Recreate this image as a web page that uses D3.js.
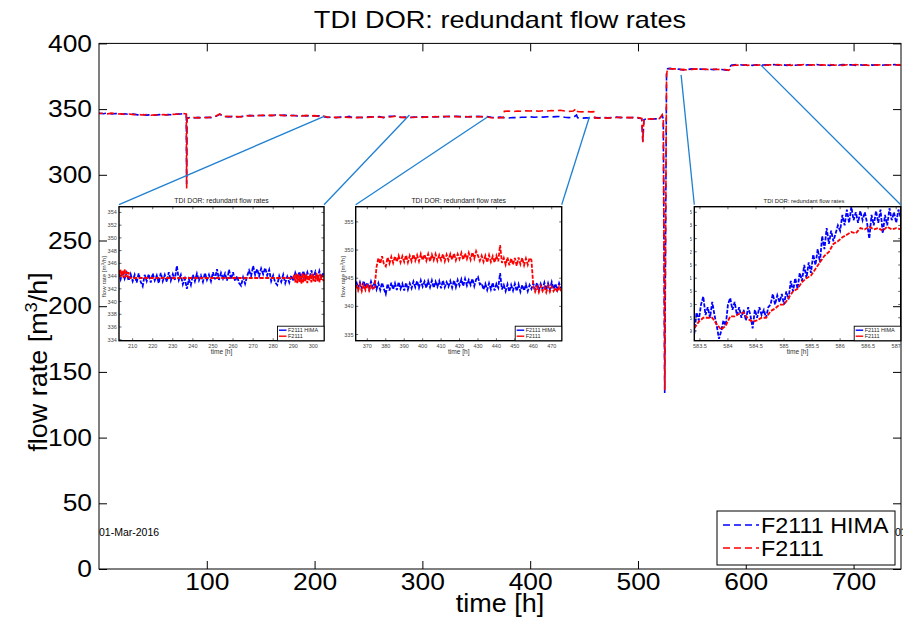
<!DOCTYPE html>
<html><head><meta charset="utf-8">
<script src="https://cdn.jsdelivr.net/npm/d3@7"></script>
<style>body{margin:0;background:#fff} svg{display:block}</style>
</head><body><svg id="c" width="903" height="617"></svg>
<script>
// ---------------- DATA ----------------
const chartTitle = "TDI DOR: redundant flow rates";
const seriesNames = ["F2111 HIMA", "F2111"];
const mainXDomain = [0, 744];
const mainYDomain = [0, 400];
const mainXTicks = [100, 200, 300, 400, 500, 600, 700];
const mainYTicks = [0, 50, 100, 150, 200, 250, 300, 350, 400];
const startDateLabel = "01-Mar-2016";
const endDateLabel = "01-Apr-2016";

// main series: time [h]
const mainT = [
  0,4,8,12,16,20,24,28,32,36,40,44,48,52,56,60,64,68,72,76,80,
  81,81.3,81.6,
  84,88,92,96,100,104,108,112,116,120,
  124,128,132,136,140,144,148,152,156,160,
  164,168,172,176,180,184,188,192,196,200,
  204,208,212,216,220,224,228,232,236,240,
  244,248,252,256,260,264,268,272,276,280,
  284,288,292,296,300,304,308,312,316,320,
  324,328,332,336,340,344,348,352,356,360,
  364,368,372,
  375,
  376,380,384,388,392,396,400,404,408,412,416,420,424,428,432,436,440,
  443,
  444,448,452,456,
  459,
  460,464,468,472,476,480,484,488,492,496,500,
  503.5,504.5,505.5,
  508,512,516,520,
  522.5,523.5,524.8,526.5,527.5,
  530,534,538,542,546,550,554,558,562,566,570,574,578,582,
  584,585,585.5,586,587,590,
  594,598,602,606,610,614,618,622,626,630,634,638,642,646,650,654,658,662,666,670,
  674,678,682,686,690,694,698,702,706,710,714,718,722,726,730,734,738,742,
  744
];
const mainHima = [
  346.9,346.5,347.0,346.4,346.6,346.1,346.4,345.9,346.2,345.6,345.9,345.4,345.7,345.3,345.8,345.4,345.9,345.6,346.2,346.3,346.8,
  346.0,293.0,343.2,
  343.6,343.2,343.7,343.3,343.8,343.5,344.2,346.0,344.6,344.1,
  344.5,344.0,344.4,344.8,345.2,344.8,345.3,344.9,345.4,345.0,
  345.5,345.1,345.4,344.9,345.3,344.8,345.2,344.8,345.2,344.7,
  344.9,344.3,343.7,343.9,343.5,344.0,343.6,344.4,343.2,343.8,
  343.5,344.0,344.2,343.9,344.3,343.5,344.4,344.6,344.5,343.6,
  343.9,343.4,344.0,343.7,344.1,343.8,344.3,344.0,344.4,344.1,
  344.5,344.2,344.6,344.3,344.0,344.4,344.1,344.5,344.1,344.4,
  343.8,343.5,343.9,
  343.6,
  343.4,343.2,343.6,343.4,343.8,343.9,344.1,343.8,344.0,343.9,344.2,344.0,344.3,344.4,343.8,343.5,343.7,
  345.5,
  343.4,343.1,343.3,343.2,
  343.4,
  343.6,343.4,343.7,343.3,343.6,343.9,343.5,343.8,343.4,343.7,343.3,
  342.6,325.3,341.8,
  342.6,342.3,342.7,342.4,
  345.4,342.4,134.0,377.0,380.8,
  381.0,380.2,380.4,379.8,380.1,380.6,380.2,380.5,380.1,380.4,380.0,380.5,380.1,379.6,
  379.8,380.6,381.8,383.0,383.5,383.8,
  383.9,383.4,383.8,383.3,383.7,383.2,383.8,383.4,383.9,383.5,383.8,383.3,383.9,383.4,383.7,383.3,383.8,383.5,383.9,383.4,
  383.8,383.3,383.7,383.4,383.9,383.5,383.8,383.3,383.7,383.4,383.9,383.5,383.8,383.3,383.7,383.4,383.9,383.5,
  383.6
];
const mainF2111 = [
  346.6,346.8,346.4,346.9,346.2,346.5,346.0,346.3,345.8,346.0,345.5,345.8,345.3,345.6,345.5,345.8,345.5,346.0,346.1,346.6,346.5,
  346.2,289.5,342.8,
  343.2,343.6,343.3,343.7,343.4,343.9,344.6,346.3,344.2,344.5,
  344.0,344.4,344.1,345.1,344.8,345.3,344.9,345.4,345.0,345.4,
  345.1,345.5,345.0,345.3,344.9,345.2,344.8,345.2,344.8,345.0,
  344.5,344.7,343.9,343.6,343.8,343.6,343.9,343.7,343.6,343.5,
  343.8,343.6,343.9,344.2,343.8,343.7,344.0,344.2,344.8,343.9,
  343.5,343.8,343.6,344.0,343.7,344.1,343.9,344.4,344.0,344.5,
  344.2,344.6,344.3,344.0,344.4,344.0,344.5,344.1,344.4,344.0,
  343.4,343.1,343.5,
  343.4,
  348.3,348.6,348.1,348.5,348.3,348.7,348.5,348.8,348.4,348.7,348.5,348.9,348.7,349.1,348.6,348.3,348.6,
  350.5,
  348.1,347.9,348.2,347.9,
  348.1,
  343.3,343.0,343.4,343.1,343.4,343.6,343.8,343.4,343.7,343.3,343.6,
  342.9,324.8,342.1,
  342.3,342.7,342.4,342.8,
  345.7,342.0,136.0,376.0,381.2,
  380.6,380.6,380.0,380.2,379.7,380.2,380.6,380.1,380.5,380.0,380.4,380.1,380.4,379.9,
  379.5,380.2,381.2,382.6,383.0,383.4,
  383.5,383.8,383.3,383.9,383.4,383.7,383.3,383.8,383.5,383.9,383.4,383.7,383.3,383.8,383.5,383.9,383.4,383.7,383.3,383.8,
  383.5,383.9,383.4,383.7,383.3,383.8,383.5,383.9,383.4,383.7,383.3,383.8,383.5,383.9,383.4,383.7,383.3,383.8,
  383.4
];

// inset 1: zoom 203..305 h
const inset1XDomain = [203.2, 305.3];
const inset1YDomain = [333.85, 354.9];
const inset1XTicks = [210,220,230,240,250,260,270,280,290,300];
const inset1YTicks = [334,336,338,340,342,344,346,348,350,352,354];
const inset1HimaStart = 203, inset1HimaStep = 1;
const inset1Hima = [
  344.6,343.5,344.8,343.6,344.5,343.3,344.3,343.2,344.2,343.0,
  344.4,343.1,342.4,344.2,343.2,344.3,343.0,344.4,343.3,344.1,
  342.9,344.5,343.2,344.2,343.1,344.6,343.3,344.3,343.4,345.6,
  343.4,344.2,342.7,343.6,342.0,343.5,342.6,344.2,343.2,344.4,
  343.3,344.1,343.1,344.5,343.4,344.2,343.2,344.6,343.5,345.1,
  343.4,344.5,343.6,344.4,343.3,345.0,343.5,344.6,343.2,344.0,
  342.9,342.5,343.8,342.8,344.0,344.9,344.0,345.6,344.2,345.1,
  344.0,345.2,344.3,345.3,344.1,345.0,343.2,344.1,343.0,342.6,
  344.0,343.1,344.2,342.9,343.9,343.0,344.1,343.2,344.5,343.6,
  344.7,343.5,344.8,343.7,344.6,343.5,344.9,343.8,344.7,343.6,
  344.8,343.7,344.5
];
const inset1F2111T = [
  203,203.5,204,204.5,205,205.5,206,206.5,207,207.5,208,208.5,
  209,290,
  290.5,291,291.5,292,292.5,293,293.5,294,294.5,295,295.5,296,296.5,297,297.5,
  298,298.5,299,299.5,300,300.5,301,301.5,302,302.5,303,303.5,304,304.5,305
];
const inset1F2111 = [
  344.9,343.8,345.0,343.9,344.8,343.7,345.1,343.9,344.7,343.8,344.6,343.7,
  343.7,343.7,
  344.2,343.0,344.4,342.9,344.3,343.1,344.0,342.8,344.5,343.0,344.2,343.2,344.4,342.9,344.1,
  343.3,344.3,343.0,344.4,343.2,344.0,343.1,344.5,343.3,344.2,343.0,344.3,343.4,344.1,343.2
];

// inset 2: zoom 364..475 h
const inset2XDomain = [363.7, 475.4];
const inset2YDomain = [333.9, 357.7];
const inset2XTicks = [370,380,390,400,410,420,430,440,450,460,470];
const inset2YTicks = [335,340,345,350,355];
const inset2Start = 364, inset2Step = 1;
const inset2Hima = [
  344.4,343.3,344.3,343.2,344.5,343.4,344.2,343.1,344.4,343.3,
  344.3,343.0,344.1,342.9,344.2,343.1,342.2,344.0,342.8,344.2,
  343.0,344.1,342.9,344.3,343.1,344.0,342.8,344.2,343.0,344.1,
  343.2,344.4,343.4,344.5,343.3,344.6,343.5,344.4,343.3,344.5,
  343.4,344.6,343.3,344.4,343.5,344.5,343.2,344.6,343.4,344.3,
  343.5,344.5,343.3,344.6,343.4,344.7,343.7,344.8,343.6,344.9,
  343.7,344.7,343.8,344.9,343.6,344.8,345.2,343.9,344.1,343.0,
  344.0,342.9,344.1,343.0,344.2,342.8,344.0,343.3,345.9,343.0,
  343.8,342.7,343.9,342.6,343.8,342.8,344.0,342.7,343.9,342.6,
  343.8,342.8,343.9,342.7,343.8,343.1,344.1,343.0,344.2,342.9,
  344.0,343.1,344.2,342.9,344.1,343.0,344.3,343.1,344.0,342.9,
  344.1,343.2
];
const inset2F2111 = [
  343.8,342.8,343.9,342.7,343.8,342.9,344.0,342.8,343.7,343.0,
  343.4,347.0,348.6,347.6,348.9,347.5,347.1,348.7,347.6,348.8,
  347.7,348.9,347.9,349.0,347.8,348.9,347.9,349.1,347.8,349.0,
  348.0,349.2,348.1,349.1,348.0,349.3,348.2,349.2,348.1,349.3,
  348.0,349.2,348.2,349.3,348.1,349.1,348.2,349.3,348.0,349.2,
  348.2,349.3,348.3,349.4,348.2,349.3,348.4,349.5,348.3,349.4,
  348.4,349.5,348.3,349.6,348.5,349.8,349.0,348.1,349.0,347.9,
  349.0,347.8,349.1,347.9,348.9,347.8,349.0,348.0,350.9,347.7,
  348.6,347.4,348.7,347.3,348.5,347.4,348.6,347.2,348.7,347.5,
  348.6,347.3,348.5,347.4,348.6,348.2,343.6,342.6,343.5,342.5,
  343.6,342.7,343.4,342.5,343.6,342.6,343.5,342.7,343.3,342.6,
  343.5,342.7
];

// inset 3: zoom 583.4..587.1 h
const inset3XDomain = [583.4, 587.08];
const inset3YDomain = [378.63, 383.71];
const inset3XTicks = [583.5,584,584.5,585,585.5,586,586.5,587];
const inset3YTicks = [379,379.5,380,380.5,381,381.5,382,382.5,383,383.5];
const inset3HimaStart = 583.4, inset3HimaStep = 0.04;
const inset3Hima = [
  378.9,379.7,379.4,380.0,380.3,379.6,379.9,379.5,380.1,379.6,
  379.2,378.7,379.0,379.4,379.2,380.0,380.25,379.8,380.1,379.6,
  379.9,379.5,379.8,379.4,379.9,379.6,379.1,379.8,379.5,379.9,
  379.6,379.8,379.5,379.9,380.0,380.4,380.0,380.35,380.1,380.4,
  380.0,380.5,380.2,380.9,380.5,381.0,380.6,381.2,380.9,381.5,
  381.0,381.6,381.2,381.9,381.5,382.1,381.6,382.6,382.1,382.9,
  382.3,382.8,382.4,382.7,383.0,382.8,383.4,383.0,383.6,383.1,
  383.7,383.2,383.5,383.1,383.55,383.2,383.5,383.1,382.5,383.4,
  383.0,383.55,383.1,383.6,382.7,383.4,383.0,383.65,383.2,383.5,
  383.1,383.6,383.3
];
const inset3F2111Start = 583.4, inset3F2111Step = 0.08;
const inset3F2111 = [
  379.1,379.35,379.5,379.5,379.5,379.25,379.05,379.2,379.55,379.55,
  379.65,379.7,379.45,379.35,379.4,379.5,379.5,379.75,379.85,380.0,
  380.0,380.25,380.5,380.6,380.85,381.0,381.1,381.35,381.6,381.85,
  382.0,382.3,382.4,382.55,382.65,382.75,382.7,382.9,382.85,382.95,
  382.85,382.9,382.8,382.95,382.85,382.9,382.85
];

// zoom connectors: main-chart point [h, m3/h] -> inset corner
const connectorT = [209.4, 288, 360.4, 455, 540, 614];
const connectorV = [344.7, 345.5, 344.0, 344.2, 376.0, 383.6];
const connectorInset = [0, 0, 1, 1, 2, 2];
const connectorCorner = ["left", "right", "left", "right", "left", "right"];

// ---------------- DRAWING ----------------
const FONT = '"Liberation Sans", Arial, Helvetica, sans-serif';
const BLUE = "#0000ff", RED = "#ff0000", LINK = "#1f80d2";
const svg = d3.select("#c").attr("font-family", FONT);
svg.append("rect").attr("width", 903).attr("height", 617).attr("fill", "#fff");

// horizontal stretch of text, as in the (slightly wide) reference rendering
function stretch(sel, f) {
  sel.each(function () {
    const w = this.getComputedTextLength();
    if (w > 0) d3.select(this).attr("textLength", w * f).attr("lengthAdjust", "spacingAndGlyphs");
  });
}

const M = {l: 99, r: 901, t: 43.4, b: 569};
const x = d3.scaleLinear().domain(mainXDomain).range([M.l, M.r]);
const y = d3.scaleLinear().domain(mainYDomain).range([M.b, M.t]);

const defs = svg.append("defs");
defs.append("clipPath").attr("id", "mainClip").append("rect")
  .attr("x", M.l).attr("y", M.t).attr("width", M.r - M.l).attr("height", M.b - M.t);

const zip = (ts, vs) => vs.map((v, i) => [ts[i], v]);
const grid = (start, step, vs) => vs.map((v, i) => [start + i * step, v]);

const mainLine = d3.line().x(d => x(d[0])).y(d => y(d[1]));
const gMain = svg.append("g").attr("clip-path", "url(#mainClip)");
gMain.append("path").attr("d", mainLine(zip(mainT, mainHima)))
  .attr("fill", "none").attr("stroke", BLUE).attr("stroke-width", 1.6).attr("stroke-dasharray", "7,4");
gMain.append("path").attr("d", mainLine(zip(mainT, mainF2111)))
  .attr("fill", "none").attr("stroke", RED).attr("stroke-width", 1.6).attr("stroke-dasharray", "7,4").attr("stroke-dashoffset", 3);

// axes (MATLAB style: ticks inside on all sides)
const TICK = 8;
const gx = svg.append("g").attr("transform", `translate(0,${M.b})`)
  .call(d3.axisBottom(x).tickValues(mainXTicks).tickSizeInner(-TICK).tickSizeOuter(0).tickPadding(4).tickFormat(d3.format("d")));
const gxt = svg.append("g").attr("transform", `translate(0,${M.t})`)
  .call(d3.axisTop(x).tickValues(mainXTicks).tickSizeInner(-TICK).tickSizeOuter(0).tickFormat(""));
const gy = svg.append("g").attr("transform", `translate(${M.l},0)`)
  .call(d3.axisLeft(y).tickValues(mainYTicks).tickSizeInner(-TICK).tickSizeOuter(0).tickPadding(7).tickFormat(d3.format("d")));
const gyr = svg.append("g").attr("transform", `translate(${M.r},0)`)
  .call(d3.axisRight(y).tickValues(mainYTicks).tickSizeInner(-TICK).tickSizeOuter(0).tickFormat(""));
[gx, gxt, gy, gyr].forEach(g => {
  g.select(".domain").remove();
  g.attr("font-family", FONT).attr("font-size", 24);
  g.selectAll("text").attr("fill", "#000");
  g.selectAll("line").attr("stroke", "#000");
});
stretch(gx.selectAll("text"), 1.1);
stretch(gy.selectAll("text"), 1.1);
svg.append("rect").attr("x", M.l).attr("y", M.t).attr("width", M.r - M.l).attr("height", M.b - M.t)
  .attr("fill", "none").attr("stroke", "#000").attr("stroke-width", 1);

// titles
const tt = svg.append("text").attr("x", (M.l + M.r) / 2).attr("y", 28).attr("text-anchor", "middle")
  .attr("font-size", 24).text(chartTitle);
stretch(tt, 1.13);
const xt = svg.append("text").attr("x", (M.l + M.r) / 2).attr("y", 612).attr("text-anchor", "middle")
  .attr("font-size", 25).text("time [h]");
stretch(xt, 1.08);
const yl = svg.append("text").attr("transform", `translate(47,362) rotate(-90) scale(1.08,1)`)
  .attr("text-anchor", "middle").attr("font-size", 25);
yl.append("tspan").text("flow rate [m");
yl.append("tspan").attr("baseline-shift", "super").attr("font-size", 17).text("3");
yl.append("tspan").text("/h]");

// date labels
svg.append("text").attr("x", 99).attr("y", 536).attr("font-size", 10.5).text(startDateLabel);
svg.append("text").attr("x", 895).attr("y", 536).attr("font-size", 10.5).text(endDateLabel);

// ---------------- INSETS ----------------
const insets = [
  {box: [119, 206.7, 324, 340.7], xDom: inset1XDomain, yDom: inset1YDomain, xTicks: inset1XTicks, yTicks: inset1YTicks,
   hima: grid(inset1HimaStart, inset1HimaStep, inset1Hima), f2111: zip(inset1F2111T, inset1F2111), titleFs: 6.9, ylabelX: 104, clipX: null},
  {box: [355.7, 206.7, 561.7, 340.7], xDom: inset2XDomain, yDom: inset2YDomain, xTicks: inset2XTicks, yTicks: inset2YTicks,
   hima: grid(inset2Start, inset2Step, inset2Hima), f2111: grid(inset2Start, inset2Step, inset2F2111), titleFs: 6.9, ylabelX: 343, clipX: null},
  {box: [694.3, 206.7, 900.7, 340.7], xDom: inset3XDomain, yDom: inset3YDomain, xTicks: inset3XTicks, yTicks: inset3YTicks,
   hima: grid(inset3HimaStart, inset3HimaStep, inset3Hima), f2111: grid(inset3F2111Start, inset3F2111Step, inset3F2111), titleFs: 5.9, titleShift: 6.5, ylabelX: 682, clipX: 690}
];

insets.forEach((ins, k) => {
  const [x0, y0, x1, y1] = ins.box;
  const ix = d3.scaleLinear().domain(ins.xDom).range([x0, x1]);
  const iy = d3.scaleLinear().domain(ins.yDom).range([y1, y0]);
  let g = svg.append("g");
  if (ins.clipX !== null) {
    defs.append("clipPath").attr("id", "insClipOuter" + k).append("rect")
      .attr("x", ins.clipX).attr("y", 190).attr("width", 903 - ins.clipX).attr("height", 175);
    g.attr("clip-path", `url(#insClipOuter${k})`);
  }
  defs.append("clipPath").attr("id", "insClip" + k).append("rect")
    .attr("x", x0).attr("y", y0).attr("width", x1 - x0).attr("height", y1 - y0);

  // title
  g.append("text").attr("x", (x0 + x1) / 2 + (ins.titleShift || 0)).attr("y", 203)
    .attr("text-anchor", "middle").attr("font-size", ins.titleFs).attr("fill", "#222").text(chartTitle);
  // axis labels
  g.append("text").attr("x", (x0 + x1) / 2).attr("y", 353.5).attr("text-anchor", "middle")
    .attr("font-size", 6.6).attr("fill", "#333").text("time [h]");
  const iyl = g.append("text").attr("transform", `translate(${ins.ylabelX + 2},${(y0 + y1) / 2 + 3}) rotate(-90)`)
    .attr("text-anchor", "middle").attr("font-size", 6.2).attr("fill", "#333");
  iyl.append("tspan").text("flow rate [m");
  iyl.append("tspan").attr("baseline-shift", "super").attr("font-size", 4.3).text("3");
  iyl.append("tspan").text("/h]");

  // data
  const il = d3.line().x(d => ix(d[0])).y(d => iy(d[1]));
  const gd = g.append("g").attr("clip-path", `url(#insClip${k})`);
  gd.append("path").attr("d", il(ins.hima)).attr("fill", "none").attr("stroke", BLUE)
    .attr("stroke-width", 1.8).attr("stroke-dasharray", "4,1.5");
  gd.append("path").attr("d", il(ins.f2111)).attr("fill", "none").attr("stroke", RED)
    .attr("stroke-width", 1.8).attr("stroke-dasharray", "4,1.5");

  // ticks
  const tk = 2.5;
  const gt = g.append("g").attr("stroke", "#000").attr("stroke-width", 0.6);
  ins.xTicks.forEach(t => {
    gt.append("line").attr("x1", ix(t)).attr("x2", ix(t)).attr("y1", y1).attr("y2", y1 - tk);
    gt.append("line").attr("x1", ix(t)).attr("x2", ix(t)).attr("y1", y0).attr("y2", y0 + tk);
  });
  ins.yTicks.forEach(t => {
    gt.append("line").attr("x1", x0).attr("x2", x0 + tk).attr("y1", iy(t)).attr("y2", iy(t));
    gt.append("line").attr("x1", x1).attr("x2", x1 - tk).attr("y1", iy(t)).attr("y2", iy(t));
  });
  g.selectAll(null).data(ins.xTicks).enter().append("text")
    .attr("x", d => ix(d)).attr("y", 348).attr("text-anchor", "middle")
    .attr("font-size", 5.5).attr("fill", "#444").text(d => String(d));
  g.selectAll(null).data(ins.yTicks).enter().append("text")
    .attr("x", x0 - 2.2).attr("y", d => iy(d) + 2).attr("text-anchor", "end")
    .attr("font-size", 5.5).attr("fill", "#444").text(d => String(d));
  g.append("rect").attr("x", x0).attr("y", y0).attr("width", x1 - x0).attr("height", y1 - y0)
    .attr("fill", "none").attr("stroke", "#000").attr("stroke-width", 1.4);

  // legend
  const lw = 46.5, lh = 14.5;
  const lg = g.append("g").attr("transform", `translate(${x1 - lw},${y1 - lh})`);
  lg.append("rect").attr("width", lw).attr("height", lh).attr("fill", "#fff").attr("stroke", "#000").attr("stroke-width", 0.9);
  [BLUE, RED].forEach((c, j) => {
    const yy = 4 + j * 6;
    lg.append("line").attr("x1", 1.5).attr("x2", 9).attr("y1", yy).attr("y2", yy).attr("stroke", c).attr("stroke-width", 1.4);
    lg.append("text").attr("x", 10.5).attr("y", yy + 2).attr("font-size", 5.5).attr("fill", "#222").text(seriesNames[j]);
  });
});

// connectors
connectorT.forEach((t, i) => {
  const ins = insets[connectorInset[i]];
  const cx = connectorCorner[i] === "left" ? ins.box[0] : ins.box[2];
  svg.append("line").attr("x1", x(t)).attr("y1", y(connectorV[i]))
    .attr("x2", cx).attr("y2", ins.box[1] - 2)
    .attr("stroke", LINK).attr("stroke-width", 1.3);
});

// main legend
const L = {x: 717, y: 511, w: 178, h: 54};
const lgm = svg.append("g").attr("transform", `translate(${L.x},${L.y})`);
lgm.append("rect").attr("width", L.w).attr("height", L.h).attr("fill", "#fff").attr("stroke", "#000").attr("stroke-width", 1);
[BLUE, RED].forEach((c, j) => {
  const yy = 14 + j * 23;
  lgm.append("line").attr("x1", 6).attr("x2", 42).attr("y1", yy).attr("y2", yy)
    .attr("stroke", c).attr("stroke-width", 1.5).attr("stroke-dasharray", "7,4");
  const lt = lgm.append("text").attr("x", 44).attr("y", yy + 8).attr("font-size", 22).text(seriesNames[j]);
  stretch(lt, 1.06);
});
</script></body></html>
